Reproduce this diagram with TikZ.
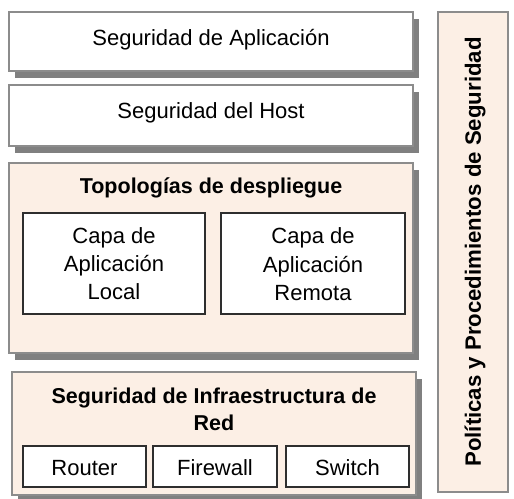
\documentclass[tikz,border=0pt]{standalone}
\usepackage{fontspec}
\setmainfont{Liberation Sans}
\usetikzlibrary{shadows}
\definecolor{boxgray}{HTML}{8C8C8C}
\definecolor{shadowgray}{HTML}{808080}
\definecolor{innerdark}{HTML}{2E2E2E}
\definecolor{peach}{HTML}{FCEFE5}
\begin{document}
\begin{tikzpicture}[x=1pt,y=-1pt,
  outerbox/.style={draw=boxgray, line width=1.3pt, fill=white, inner sep=0, outer sep=0,
    drop shadow={shadow xshift=6pt, shadow yshift=-7pt, fill=shadowgray, opacity=1}},
  peachbox/.style={outerbox, fill=peach},
  innerbox/.style={draw=innerdark, fill=white, line width=1.4pt, inner sep=0, outer sep=0},
  panelbox/.style={draw=boxgray, line width=1.3pt, fill=peach, inner sep=0, outer sep=0},
  lbl/.style={font=\fontsize{22}{28}\selectfont, anchor=base, inner sep=0},
  blbl/.style={font=\fontsize{21.5}{27}\selectfont\bfseries, anchor=base, inner sep=0}]
\useasboundingbox[fill=white] (0,0) rectangle (514,498);

% right panel
\node[panelbox, minimum width=70pt, minimum height=480pt] (panel) at (473,252) {};
\node[font=\fontsize{22.2}{27}\selectfont\bfseries, rotate=90, inner sep=0] (paneltxt) at (475,252) {Políticas y Procedimientos de Seguridad};

% application security
\node[outerbox, minimum width=404pt, minimum height=59pt] (app) at (211,41.5) {};
\node[lbl] (apptxt) at (211,45) {Seguridad de Aplicación};

% host security
\node[outerbox, minimum width=404pt, minimum height=61pt] (host) at (211,115.5) {};
\node[lbl] (hosttxt) at (211,118) {Seguridad del Host};

% deployment topologies
\node[peachbox, minimum width=404pt, minimum height=190pt] (topo) at (211,258) {};
\node[blbl] (topotxt) at (211,193) {Topologías de despliegue};
\node[innerbox, minimum width=182pt, minimum height=101pt] (local) at (114,263.5) {};
\node[lbl] (local1) at (114,243) {Capa de};
\node[lbl] (local2) at (114,271.5) {Aplicación};
\node[lbl] (local3) at (114,299.5) {Local};
\node[innerbox, minimum width=184pt, minimum height=101pt] (remote) at (313,263.5) {};
\node[lbl] (remote1) at (313,243) {Capa de};
\node[lbl] (remote2) at (313,272.5) {Aplicación};
\node[lbl] (remote3) at (313,300.5) {Remota};

% network infrastructure
\node[peachbox, minimum width=404pt, minimum height=123pt] (infra) at (214,433.5) {};
\node[blbl] (infra1) at (214,403) {Seguridad de Infraestructura de};
\node[blbl] (infra2) at (214,430) {Red};
\node[innerbox, minimum width=123pt, minimum height=41pt] (router) at (84.5,466.5) {};
\node[lbl] (routertxt) at (84.5,475) {Router};
\node[innerbox, minimum width=124pt, minimum height=41pt] (firewall) at (215,466.5) {};
\node[lbl] (firewalltxt) at (215,475) {Firewall};
\node[innerbox, minimum width=123pt, minimum height=41pt] (switch) at (347.5,466.5) {};
\node[lbl] (switchtxt) at (347.5,475) {Switch};
\end{tikzpicture}
\end{document}
